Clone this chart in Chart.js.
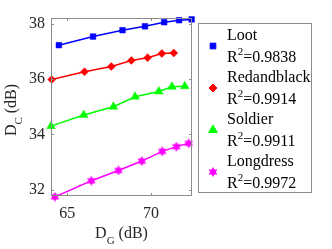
<!DOCTYPE html>
<html>
<head>
<meta charset="utf-8">
<script src="https://cdn.jsdelivr.net/npm/chart.js@4.4.1/dist/chart.umd.min.js"></script>
<style>
  html, body { margin: 0; padding: 0; background: #fff; }
  #wrap { width: 332px; height: 249px; }
</style>
</head>
<body>
<div id="wrap"><canvas id="chart" width="332" height="249"></canvas></div>
<script>
const seriesNames = ['Loot', 'Redandblack', 'Soldier', 'Longdress'];
const rSquared    = ['0.9838', '0.9914', '0.9911', '0.9972'];

const lootX = [64.50, 66.54, 68.30, 69.64, 70.79, 71.68, 72.43];
const lootY = [37.22, 37.53, 37.76, 37.90, 38.05, 38.12, 38.15];
const redX  = [64.07, 66.03, 67.63, 68.83, 69.80, 70.65, 71.36];
const redY  = [35.98, 36.26, 36.45, 36.67, 36.77, 36.92, 36.94];
const solX  = [64.03, 65.98, 67.76, 69.05, 70.47, 71.25, 72.02];
const solY  = [34.30, 34.70, 35.00, 35.36, 35.55, 35.72, 35.74];
const lngX  = [64.26, 66.44, 68.06, 69.45, 70.67, 71.52, 72.25];
const lngY  = [31.75, 32.33, 32.70, 33.04, 33.39, 33.56, 33.68];

const xTicks = [65, 70];
const yTicks = [32, 34, 36, 38];

const FONT = "'Liberation Serif', 'DejaVu Serif', serif";
const TXT  = '#262626';
const EDGE = '#8c8c8c';

function hexagram(size, color) {
  const c = document.createElement('canvas');
  c.width = c.height = size;
  const g = c.getContext('2d');
  const r = size / 2;
  g.fillStyle = color;
  [0, Math.PI].forEach(off => {
    g.beginPath();
    for (let k = 0; k < 3; k++) {
      const a = off - Math.PI / 2 + k * 2 * Math.PI / 3;
      g.lineTo(r + r * Math.cos(a), r + r * Math.sin(a));
    }
    g.closePath();
    g.fill();
  });
  return c;
}

const pts = (xs, ys) => xs.map((x, i) => ({ x, y: ys[i] }));

const styles = [
  { color: '#0000ff', pointStyle: 'rect',     radius: 4 },
  { color: '#ff0000', pointStyle: 'rectRot',  radius: 4 },
  { color: '#00ff00', pointStyle: 'triangle', radius: 5 },
  { color: '#ff00ff', pointStyle: hexagram(10, '#ff00ff'), radius: 5 },
];
const seriesData = [pts(lootX, lootY), pts(redX, redY), pts(solX, solY), pts(lngX, lngY)];

// frame, inside ticks, axis titles with subscripts, and the two-line legend
const decorPlugin = {
  id: 'decor',
  afterDraw(chart) {
    const { ctx, chartArea: { left, right, top, bottom } } = chart;
    const xs = chart.scales.x, ys = chart.scales.y;
    ctx.save();
    ctx.strokeStyle = EDGE;
    ctx.lineWidth = 1;
    ctx.strokeRect(left + 0.5, top + 0.5, right - left - 1, bottom - top - 1);
    ctx.beginPath();
    xTicks.forEach(v => {
      const px = Math.round(xs.getPixelForValue(v)) + 0.5;
      ctx.moveTo(px, bottom); ctx.lineTo(px, bottom - 3);
      ctx.moveTo(px, top);    ctx.lineTo(px, top + 3);
    });
    yTicks.forEach(v => {
      const py = Math.round(ys.getPixelForValue(v)) + 0.5;
      ctx.moveTo(left, py);  ctx.lineTo(left + 3, py);
      ctx.moveTo(right, py); ctx.lineTo(right - 3, py);
    });
    ctx.stroke();

    // axis titles
    const subLabel = (main, sub, rest, cx, base) => {
      ctx.font = `16px ${FONT}`;
      const w1 = ctx.measureText(main).width, w3 = ctx.measureText(rest).width;
      ctx.font = `11px ${FONT}`;
      const w2 = ctx.measureText(sub).width;
      let x = cx - (w1 + w2 + w3) / 2;
      ctx.textAlign = 'left';
      ctx.textBaseline = 'alphabetic';
      ctx.font = `16px ${FONT}`;
      ctx.fillText(main, x, base); x += w1;
      ctx.font = `11px ${FONT}`;
      ctx.fillText(sub, x, base + 6); x += w2;
      ctx.font = `16px ${FONT}`;
      ctx.fillText(rest, x, base);
    };
    ctx.fillStyle = TXT;
    subLabel('D', 'G', ' (dB)', (left + right) / 2, 238);
    ctx.save();
    ctx.translate(15.5, (top + bottom) / 2 + 3);
    ctx.rotate(-Math.PI / 2);
    subLabel('D', 'C', ' (dB)', 0, 0);
    ctx.restore();

    // legend
    ctx.fillStyle = '#fff';
    ctx.fillRect(198.5, 23.5, 113, 169);
    ctx.strokeStyle = EDGE;
    ctx.strokeRect(198.5, 23.5, 113, 169);
    seriesNames.forEach((name, i) => {
      const base = 40 + i * 42;
      const st = styles[i];
      ctx.fillStyle = st.color;
      ctx.strokeStyle = st.color;
      Chart.helpers.drawPoint(ctx, { pointStyle: st.pointStyle, radius: st.radius, rotation: 0, borderWidth: 0.5 }, 213, base + 6);
      ctx.fillStyle = '#000';
      ctx.textAlign = 'left';
      ctx.textBaseline = 'alphabetic';
      ctx.font = `16px ${FONT}`;
      ctx.fillText(name, 227, base);
      ctx.fillText('R', 227, base + 22);
      const wr = ctx.measureText('R').width;
      ctx.font = `11px ${FONT}`;
      ctx.fillText('2', 227 + wr, base + 15);
      const w2 = ctx.measureText('2').width;
      ctx.font = `16px ${FONT}`;
      ctx.fillText('=' + rSquared[i], 227 + wr + w2, base + 22);
    });
    ctx.restore();
  }
};

new Chart(document.getElementById('chart'), {
  type: 'line',
  data: {
    datasets: seriesNames.map((name, i) => ({
      label: name,
      data: seriesData[i],
      borderColor: styles[i].color,
      backgroundColor: styles[i].color,
      borderWidth: 1.5,
      pointStyle: styles[i].pointStyle,
      pointRadius: styles[i].radius,
      pointBorderWidth: 0.5,
      pointBackgroundColor: styles[i].color,
      pointBorderColor: styles[i].color,
      tension: 0,
      clip: false,
    }))
  },
  options: {
    responsive: false,
    animation: false,
    devicePixelRatio: 1,
    layout: { padding: { left: 0, right: 140, top: 18, bottom: 0 } },
    plugins: { legend: { display: false }, tooltip: { enabled: false } },
    scales: {
      x: {
        type: 'linear',
        min: 64.03, max: 72.45,
        grid: { display: false, drawTicks: false },
        border: { display: false },
        afterBuildTicks: s => { s.ticks = xTicks.map(v => ({ value: v })); },
        afterFit: s => { s.height = 53; },
        ticks: { color: TXT, font: { family: FONT, size: 16 }, padding: 8, maxRotation: 0 },
      },
      y: {
        type: 'linear',
        min: 31.78, max: 38.2,
        grid: { display: false, drawTicks: false },
        border: { display: false },
        afterBuildTicks: s => { s.ticks = yTicks.map(v => ({ value: v })); },
        afterFit: s => { s.width = 51; },
        ticks: { color: TXT, font: { family: FONT, size: 16 }, padding: 6 },
      }
    }
  },
  plugins: [decorPlugin]
});
</script>
</body>
</html>
